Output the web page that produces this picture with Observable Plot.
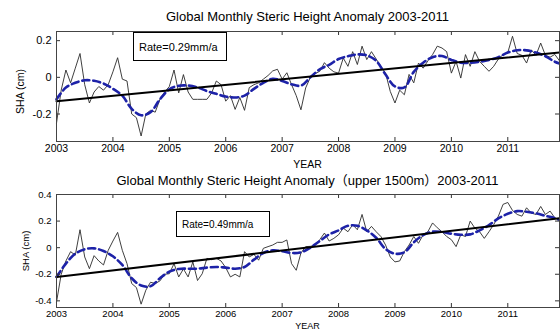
<!DOCTYPE html>
<html><head><meta charset="utf-8">
<script src="https://cdn.jsdelivr.net/npm/d3@7"></script>
<script src="https://cdn.jsdelivr.net/npm/@observablehq/plot@0.6"></script>
<style>
body{margin:0;background:#fff;}
#wrap{position:relative;width:560px;height:331px;overflow:hidden;background:#fff;font-family:"Liberation Sans",Arial,"Noto Sans CJK SC",sans-serif;color:#000;}
.abs{position:absolute;white-space:nowrap;}
.panel{position:absolute;left:0;}
.box{position:absolute;border:1px solid #000;background:#fff;box-sizing:border-box;display:flex;align-items:center;white-space:nowrap;}
</style></head><body><div id="wrap"></div>
<script>
const years = [2003, 2004, 2005, 2006, 2007, 2008, 2009, 2010, 2011];
const titleTop = "Global Monthly Steric Height Anomaly 2003-2011";
const titleBottom = "Global Monthly Steric Height Anomaly（upper 1500m）2003-2011";
const xLabel = "YEAR";
const yLabel = "SHA (cm)";
const rateTop = "Rate=0.29mm/a";
const rateBottom = "Rate=0.49mm/a";
const yTicksTop = [-0.2, 0, 0.2];
const yTicksBottom = [-0.4, -0.2, 0, 0.2, 0.4];

// monthly anomalies Jan 2003 .. Dec 2011 (cm)
const shaTop = [
 -0.25,-0.07,0.04,-0.03,0.05,0.13,-0.04,-0.14,-0.08,-0.05,-0.07,-0.04,
 0.03,0.107,-0.01,-0.02,-0.2,-0.22,-0.32,-0.2,-0.18,-0.19,-0.12,-0.08,
 -0.05,0.04,-0.085,0.015,-0.08,-0.12,-0.12,-0.12,-0.12,-0.085,-0.02,-0.04,
 -0.13,-0.1,-0.175,-0.11,-0.18,-0.056,-0.04,-0.03,-0.01,0.01,0.035,0.044,
 -0.01,0.025,-0.04,-0.1,-0.177,-0.058,0.0,0.02,0.033,0.08,0.05,0.03,
 0.023,0.105,0.06,0.14,0.07,0.17,0.097,0.14,0.1,0.06,0.023,-0.077,
 -0.14,-0.07,-0.095,0.016,-0.03,0.078,0.05,0.09,0.124,0.17,0.16,0.14,
 0.023,0.087,-0.004,0.124,0.06,0.14,0.087,0.06,0.033,0.06,0.1,0.124,
 0.135,0.224,0.13,0.12,0.078,0.15,0.12,0.187,0.12,0.11,0.125,0.09
];
const shaBottom = [
 -0.41,-0.2,-0.1,-0.03,-0.056,0.135,-0.07,-0.158,-0.06,-0.1,-0.13,-0.02,
 0.05,0.115,-0.02,-0.12,-0.27,-0.3,-0.425,-0.32,-0.26,-0.27,-0.25,-0.2,
 -0.196,-0.12,-0.22,-0.16,-0.22,-0.107,-0.247,-0.196,-0.08,-0.09,-0.08,-0.1,
 -0.15,-0.22,-0.2,-0.22,-0.03,-0.07,-0.05,-0.094,-0.005,0.008,0.02,0.04,
 0.04,0.058,-0.12,-0.17,-0.04,0.008,0.01,0.02,0.06,0.11,0.05,0.07,
 0.097,0.147,0.12,0.173,0.135,0.25,0.12,0.16,0.12,0.084,0.02,-0.07,
 -0.107,-0.1,-0.03,0.02,0.084,0.033,0.097,0.12,0.186,0.15,0.12,0.084,
 0.06,0.008,0.097,0.084,0.2,0.147,0.12,0.07,0.12,0.173,0.237,0.326,
 0.34,0.28,0.25,0.237,0.3,0.26,0.25,0.31,0.25,0.275,0.224,0.21
];
// smoothed curve read every two months (last value = Dec 2011)
const smoothTop = [
 -0.12,-0.056,-0.03,-0.016,-0.019,-0.034,-0.062,-0.1,-0.172,-0.207,-0.19,-0.12,
 -0.065,-0.046,-0.045,-0.055,-0.075,-0.09,-0.105,-0.11,-0.1,-0.063,-0.03,-0.008,
 -0.02,-0.038,-0.045,0.0,0.044,0.068,0.1,0.115,0.125,0.12,0.09,0.015,
 -0.05,-0.055,0.03,0.08,0.11,0.116,0.095,0.08,0.08,0.085,0.095,0.11,
 0.135,0.148,0.147,0.135,0.115,0.085,0.075
];
const smoothBottom = [
 -0.22,-0.12,-0.045,-0.012,-0.005,-0.025,-0.065,-0.13,-0.23,-0.285,-0.29,-0.23,
 -0.18,-0.16,-0.158,-0.158,-0.15,-0.145,-0.15,-0.158,-0.145,-0.09,-0.04,-0.02,
 -0.027,-0.04,-0.035,0.0,0.05,0.1,0.13,0.165,0.165,0.13,0.075,-0.01,
 -0.045,-0.035,0.04,0.095,0.12,0.118,0.105,0.097,0.1,0.13,0.17,0.22,
 0.255,0.275,0.27,0.258,0.24,0.222,0.21
];
// linear trend at start and end of record
const trendTop = [-0.13, 0.135];
const trendBottom = [-0.22, 0.222];

const font = '"Liberation Sans",Arial,"Noto Sans CJK SC",sans-serif';
const tEnd = 2003 + 107 / 12;

function panel({values, smooth, trend, yDomain, yTicks, height, marginTop, marginBottom, xFont, yFont, xPad, yPad, labelFont, labelDx, labelDy}) {
  const marginLeft = 56, marginRight = 1, width = 560;
  const innerW = width - marginLeft - marginRight;
  const innerH = height - marginTop - marginBottom;
  const monthly = values.map((v, i) => ({t: 2003 + i / 12, v}));
  const sm = smooth.map((v, i) => ({t: 2003 + Math.min(2 * i, 107) / 12, v}));
  const tr = trend.map((v, i) => ({t: i === 0 ? 2003 : tEnd, v}));
  const tick = 4;
  return Plot.plot({
    width, height, marginTop, marginBottom, marginLeft, marginRight,
    x: {domain: [2003, tEnd]},
    y: {domain: yDomain},
    style: {fontFamily: font, color: "#000", background: "#fff"},
    marks: [
      Plot.line(monthly, {x: "t", y: "v", stroke: "#2a2a2a", strokeWidth: 0.9}),
      Plot.line(sm, {x: "t", y: "v", curve: "catmull-rom", stroke: "#1d22a8", strokeWidth: 2.6, strokeDasharray: "7,4"}),
      Plot.line(tr, {x: "t", y: "v", stroke: "#000", strokeWidth: 2}),
      Plot.ruleX(years, {x: d => d, insetTop: innerH - tick, stroke: "#333"}),
      Plot.ruleX(years, {x: d => d, insetBottom: innerH - tick, stroke: "#333"}),
      Plot.ruleY(yTicks, {y: d => d, insetRight: innerW - tick, stroke: "#333"}),
      Plot.ruleY(yTicks, {y: d => d, insetLeft: innerW - tick, stroke: "#333"}),
      Plot.frame({stroke: "#444"}),
      Plot.axisX(years, {tickSize: 0, tickPadding: xPad, tickFormat: d => String(d), fontSize: xFont, label: null}),
      Plot.axisY(yTicks, {tickSize: 0, tickPadding: yPad, tickFormat: d => String(d), fontSize: yFont, label: null}),
      Plot.text([yLabel], {text: d => d, frameAnchor: "left", textAnchor: "middle", lineAnchor: "middle",
        rotate: -90, dx: labelDx, dy: labelDy, fontSize: labelFont, fill: "#000"})
    ]
  });
}

const wrap = document.getElementById("wrap");

const topPanel = panel({values: shaTop, smooth: smoothTop, trend: trendTop, yDomain: [-0.35, 0.25], yTicks: yTicksTop,
  height: 165, marginTop: 31, marginBottom: 24, xFont: 10.5, yFont: 11, xPad: 3, yPad: 5,
  labelFont: 10.5, labelDx: -36, labelDy: 5});
topPanel.classList.add("panel"); topPanel.style.top = "0px";
wrap.appendChild(topPanel);

const bottomPanel = panel({values: shaBottom, smooth: smoothBottom, trend: trendBottom, yDomain: [-0.45, 0.4], yTicks: yTicksBottom,
  height: 166, marginTop: 29, marginBottom: 24, xFont: 9.5, yFont: 9.5, xPad: 3, yPad: 5,
  labelFont: 9.5, labelDx: -31, labelDy: 0});
bottomPanel.classList.add("panel"); bottomPanel.style.top = "165px";
wrap.appendChild(bottomPanel);

function addText(txt, cls, css) {
  const d = document.createElement("div");
  d.className = cls; d.textContent = txt;
  Object.assign(d.style, css);
  wrap.appendChild(d);
  return d;
}
addText(titleTop, "abs", {left: "56px", width: "503px", textAlign: "center", top: "9px", fontSize: "13px", lineHeight: "16px"});
addText(titleBottom, "abs", {left: "56px", width: "503px", textAlign: "center", top: "173px", fontSize: "13px", lineHeight: "16px"});
addText(xLabel, "abs", {left: "56px", width: "503px", textAlign: "center", top: "158px", fontSize: "10.5px", lineHeight: "12px"});
addText(xLabel, "abs", {left: "56px", width: "503px", textAlign: "center", top: "321px", fontSize: "9px", lineHeight: "10px"});
addText(rateTop, "box", {left: "133px", top: "32px", width: "94px", height: "29px", paddingLeft: "5px", fontSize: "11px"});
addText(rateBottom, "box", {left: "176px", top: "211px", width: "94px", height: "26px", paddingLeft: "5px", fontSize: "10px"});
</script>
</body></html>
